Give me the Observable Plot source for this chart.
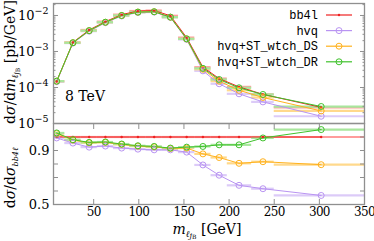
<!DOCTYPE html>
<html><head><meta charset="utf-8">
<script src="https://cdn.jsdelivr.net/npm/d3@7"></script>
<script src="https://cdn.jsdelivr.net/npm/@observablehq/plot@0.6"></script>
<style>
body{margin:0;background:#fff}
#wrap{position:relative;width:374px;height:241px;overflow:hidden;font-family:"DejaVu Serif","Liberation Serif",serif}
#wrap > svg{position:absolute;left:0;overflow:visible}
</style>
</head><body><div id="wrap"></div>
<script>
// ---- data ----
const binEdges   = [0,18,36,54,72,90,108,126,144,162,180,198,225,250,350];
const massPoints = [9,27,45,63,81,99,117,135,153,171,189,211,237.5,302];
const bb4l = [1.46e-4,1.79e-3,3.96e-3,6.75e-3,1.055e-2,1.33e-2,1.37e-2,9.8e-3,2.43e-3,3.66e-4,1.77e-4,1.04e-4,6.45e-5,2.8e-5];
const hvq  = [1.45e-4,1.71e-3,3.66e-3,6.30e-3,9.68e-3,1.21e-2,1.24e-2,8.87e-3,2.16e-3,2.90e-4,1.27e-4,6.68e-5,3.98e-5,1.59e-5];
const hvqDS= [1.50e-4,1.75e-3,3.79e-3,6.48e-3,9.97e-3,1.24e-2,1.27e-2,8.97e-3,2.23e-3,3.20e-4,1.50e-4,8.37e-5,5.27e-5,2.23e-5];
const hvqDR= [1.50e-4,1.75e-3,3.80e-3,6.50e-3,1.00e-2,1.24e-2,1.27e-2,9.0e-3,2.25e-3,3.40e-4,1.67e-4,9.8e-5,6.4e-5,2.96e-5];
const ratioBb4l = [1,1,1,1,1,1,1,1,1,1,1,1,1,1];
const ratioHvq  = [0.993,0.955,0.925,0.933,0.918,0.91,0.905,0.905,0.888,0.793,0.717,0.642,0.617,0.567];
const ratioDS   = [1.025,0.977,0.957,0.96,0.945,0.932,0.927,0.915,0.918,0.875,0.848,0.805,0.817,0.795];
const ratioDR   = [1.03,0.98,0.96,0.963,0.948,0.935,0.93,0.918,0.925,0.93,0.942,0.942,0.993,1.055];
const seriesNames = ["bb4l","hvq","hvq+ST_wtch_DS","hvq+ST_wtch_DR"];
const xTicks = [50,100,150,200,250,300,350];
const yTopMajor = [1e-5,1e-4,1e-3,1e-2];
const yRatioTicks = [0.5,0.6,0.7,0.8,0.9,1.0];
const yRatioLabels = [0.5,0.9];

// ---- style ----
const colors = ["#ee2222","#b994f2","#ffb21e","#3fc22c"];
const lights = ["#ff9c9c","#dccbf8","#ffd98c","#a8e69c"];
const FONT = '"DejaVu Serif", "Liberation Serif", serif';
const MONO = '"Liberation Mono", "DejaVu Sans Mono", monospace';
const GRAY = "#8f8f8f";
const xDomain = [5.5,350];
const ML = 53, MR = 10;

const tops = [bb4l,hvq,hvqDS,hvqDR];
const ratios = [ratioBb4l,ratioHvq,ratioDS,ratioDR];
function rows(vals){ return vals.map((v,i)=>({x:massPoints[i], lo:binEdges[i], hi:binEdges[i+1], y:v})); }

function seriesMarks(sets){
  const m = [];
  sets.forEach((vals,k)=>{
    m.push(Plot.ruleY(rows(vals),{x1:"lo",x2:"hi",y:"y",stroke:lights[k],strokeWidth:2.2,clip:true}));
  });
  sets.forEach((vals,k)=>{
    m.push(Plot.line(rows(vals),{x:"x",y:"y",stroke:colors[k],strokeWidth:1,clip:true}));
  });
  sets.forEach((vals,k)=>{
    if(k===0) m.push(Plot.dot(rows(vals),{x:"x",y:"y",r:1.2,fill:colors[k],clip:true}));
    else m.push(Plot.dot(rows(vals),{x:"x",y:"y",r:3,stroke:colors[k],fill:"none",strokeWidth:1,clip:true}));
  });
  return m;
}

const wrap = document.getElementById("wrap");

// ---- upper panel ----
const yMinor = d3.scaleLog().domain([1e-5,2.15e-2]).ticks().filter(v=>!yTopMajor.some(t=>Math.abs(t-v)/t<1e-6));
const upper = Plot.plot({
  width:374, height:124, marginTop:3, marginBottom:1, marginLeft:ML, marginRight:MR,
  style:{fontFamily:FONT, fontSize:"13px", color:"#000", background:"none", overflow:"visible"},
  x:{type:"linear", domain:xDomain, axis:null},
  y:{type:"log", domain:[1e-5,2.15e-2]},
  marks:[
    ...seriesMarks(tops),
    Plot.axisY({anchor:"left", ticks:yTopMajor, tickSize:-5, fill:"none", stroke:GRAY, label:null}),
    Plot.axisY({anchor:"right", ticks:yTopMajor, tickSize:-5, fill:"none", stroke:GRAY, label:null}),
    Plot.axisY({anchor:"left", ticks:yMinor, tickSize:-2.5, fill:"none", stroke:GRAY, label:null}),
    Plot.axisY({anchor:"right", ticks:yMinor, tickSize:-2.5, fill:"none", stroke:GRAY, label:null}),
    Plot.axisY({anchor:"left", ticks:yTopMajor, tickSize:0, tickPadding:5, stroke:"none", label:null,
      tickFormat:d=>String(Math.round(Math.log10(d))), fontSize:13}),
    Plot.frame({stroke:GRAY, strokeWidth:1.3})
  ]
});
upper.style.top = "0px";
wrap.appendChild(upper);
// superscripts for 10^n labels
d3.select(upper).selectAll('g[aria-label="y-axis tick label"] text').each(function(){
  const t = d3.select(this); const e = t.text().replace("-","\u2212");
  t.text("10"); t.append("tspan").attr("dy","-6").attr("font-size","9.5").text(e);
});

// ---- lower panel ----
const lower = Plot.plot({
  width:374, height:119, marginTop:1, marginBottom:37, marginLeft:ML, marginRight:MR,
  style:{fontFamily:FONT, fontSize:"13px", color:"#000", background:"none", overflow:"visible"},
  x:{type:"linear", domain:xDomain},
  y:{type:"linear", domain:[0.5,1.1]},
  marks:[
    ...seriesMarks(ratios),
    Plot.axisY({anchor:"left", ticks:yRatioTicks, tickSize:-5, fill:"none", stroke:GRAY, label:null}),
    Plot.axisY({anchor:"right", ticks:yRatioTicks, tickSize:-5, fill:"none", stroke:GRAY, label:null}),
    Plot.axisY({anchor:"left", ticks:yRatioLabels, tickSize:0, tickPadding:4, stroke:"none", label:null, tickFormat:d3.format(".1f"), fontSize:13}),
    Plot.axisX({anchor:"bottom", ticks:xTicks, tickSize:-5, fill:"none", stroke:GRAY, label:null}),
    Plot.axisX({anchor:"top", ticks:xTicks, tickSize:-5, fill:"none", stroke:GRAY, label:null}),
    Plot.axisX({anchor:"bottom", ticks:xTicks, tickSize:0, tickPadding:3, stroke:"none", label:null, fontSize:12}),
    Plot.frame({stroke:GRAY, strokeWidth:1.3})
  ]
});
lower.style.top = "122px";
wrap.appendChild(lower);
d3.select(lower).selectAll('g[aria-label="x-axis tick label"] text').style("letter-spacing","-0.7px");

// ---- overlay texts: titles, legend, annotation ----
const ov = d3.select(wrap).append("svg").attr("width",374).attr("height",241)
  .style("position","absolute").style("top","0px").style("left","0px")
  .style("font-family",FONT).attr("font-size",14);

// x title
const xt = ov.append("text").attr("x",207).attr("y",234).attr("text-anchor","middle");
xt.append("tspan").attr("font-style","italic").text("m");
xt.append("tspan").attr("font-style","italic").attr("font-size",9).attr("dy",3).text("\u2113");
xt.append("tspan").attr("font-style","italic").attr("font-size",8).attr("dy",1).text("j");
xt.append("tspan").attr("font-size",6).attr("dy",1).text("B");
xt.append("tspan").attr("dy",-5).text(" [GeV]");

// upper y title
const yt = ov.append("text").attr("transform","translate(15,62) rotate(-90)").attr("text-anchor","middle");
yt.append("tspan").text("d");
yt.append("tspan").attr("font-style","italic").text("\u03C3");
yt.append("tspan").text("/d");
yt.append("tspan").attr("font-style","italic").text("m");
yt.append("tspan").attr("font-style","italic").attr("font-size",9).attr("dy",3).text("\u2113");
yt.append("tspan").attr("font-style","italic").attr("font-size",8).attr("dy",1).text("j");
yt.append("tspan").attr("font-size",6).attr("dy",1).text("B");
yt.append("tspan").attr("dy",-5).text(" [pb/GeV]");

// lower y title
const yr = ov.append("text").attr("transform","translate(15,178) rotate(-90)").attr("text-anchor","middle");
yr.append("tspan").text("d");
yr.append("tspan").attr("font-style","italic").text("\u03C3");
yr.append("tspan").text("/d");
yr.append("tspan").attr("font-style","italic").text("\u03C3");
yr.append("tspan").attr("font-style","italic").attr("font-size",8).attr("dy",3).text("bb4\u2113");

// 8 TeV
ov.append("text").attr("x",65).attr("y",101).attr("font-size",14).text("8 TeV");

// legend
seriesNames.forEach((name,k)=>{
  const cy = 15 + k*15.6;
  ov.append("text").attr("x",318).attr("y",cy+4).attr("text-anchor","end")
    .style("font-family",MONO).attr("font-size",12).text(name);
  ov.append("line").attr("x1",326).attr("x2",352).attr("y1",cy).attr("y2",cy)
    .attr("stroke",colors[k]).attr("stroke-width",1.2);
  if(k===0) ov.append("circle").attr("cx",339).attr("cy",cy).attr("r",1.2).attr("fill",colors[k]);
  else ov.append("circle").attr("cx",339).attr("cy",cy).attr("r",3).attr("fill","none").attr("stroke",colors[k]);
});
</script>
</body></html>
